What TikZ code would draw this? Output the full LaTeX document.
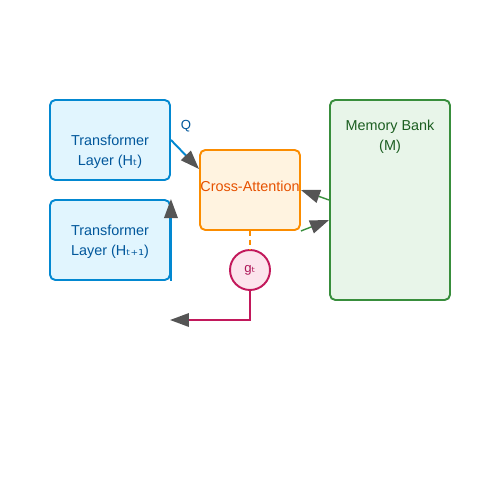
\documentclass[tikz,border=0pt]{standalone}
\usepackage{fontspec}
\setmainfont{Liberation Sans}
\newfontfamily\subsfont{DejaVu Sans}
\usetikzlibrary{arrows.meta,positioning,calc}

\definecolor{layerfill}{HTML}{E1F5FE}
\definecolor{layerdraw}{HTML}{0288D1}
\definecolor{layertext}{HTML}{01579B}
\definecolor{attnfill}{HTML}{FFF3E0}
\definecolor{attndraw}{HTML}{FB8C00}
\definecolor{attntext}{HTML}{E65100}
\definecolor{memfill}{HTML}{E8F5E9}
\definecolor{memdraw}{HTML}{388E3C}
\definecolor{memtext}{HTML}{1B5E20}
\definecolor{gatefill}{HTML}{FCE4EC}
\definecolor{gatedraw}{HTML}{C2185B}
\definecolor{gatetext}{HTML}{AD1457}
\definecolor{tipgray}{HTML}{555555}

\newcommand{\sub}[1]{{\subsfont #1}}

\begin{document}
\begin{tikzpicture}[x=0.02cm, y=-0.02cm,
    box/.style={rectangle, draw, line width=1.1pt, rounded corners=3pt, inner sep=0pt},
    layerbox/.style={box, draw=layerdraw, fill=layerfill, minimum width=2.4cm, minimum height=1.6cm},
    txt/.style={font=\fontsize{8.2}{11.4}\selectfont, align=center, inner sep=0pt},
    link/.style={line width=1.1pt, -{Triangle[length=0.38cm, width=0.27cm, color=tipgray]}}]
        \useasboundingbox (0,0) rectangle (500,500);

        % Transformer layers
        \node[layerbox] (upper) at (110,140) {};
        \node[txt, text=layertext] (uppertxt) at (110,152) {Transformer\\Layer (H\sub{ₜ})};
        \node[layerbox] (lower) at (110,240) {};
        \node[txt, text=layertext] (lowertxt) at (110,242) {Transformer\\Layer (H\sub{ₜ₊₁})};

        % Cross-attention
        \node[box, draw=attndraw, fill=attnfill, minimum width=2cm, minimum height=1.6cm] (ca) at (250,190) {};
        \node[txt, text=attntext] (catxt) at (250,186) {Cross-Attention};

        % Memory bank
        \node[box, draw=memdraw, fill=memfill, minimum width=2.4cm, minimum height=4cm] (mem) at (390,200) {};
        \node[txt, text=memtext] (memtxt) at (390,137) {Memory Bank\\(M)};

        % Gate
        \node[circle, draw=gatedraw, fill=gatefill, line width=1.1pt, minimum size=0.8cm, inner sep=0pt,
              text=gatetext, font=\fontsize{7.5}{8}\selectfont] (gate) at (250,270) {g\sub{ₜ}};
        \coordinate (ret) at (170,320);

        % Connectors
        \node[txt, text=layertext, font=\fontsize{7.5}{8}\selectfont] (qlbl) at ([shift={(0.3cm,0.28cm)}]upper.east) {Q};
        \draw[link, draw=layerdraw] (upper.east) -- ([yshift=-0.4cm]ca.north west);
        \draw[link, draw=memdraw, line width=0.8pt] (mem.west) -- (ca.east);
        \draw[link, draw=memdraw, line width=0.8pt] (ca.south east) -- ([yshift=-0.4cm]mem.west);
        \draw[draw=attndraw, line width=1.1pt, dash pattern=on 3pt off 2pt] (ca.south) -- (gate.north);
        \draw[link, draw=gatedraw] (gate.south) |- (ret);
        \draw[link, draw=layerdraw] (lower.south east) -- (lower.north east);
      \end{tikzpicture}
\end{document}
